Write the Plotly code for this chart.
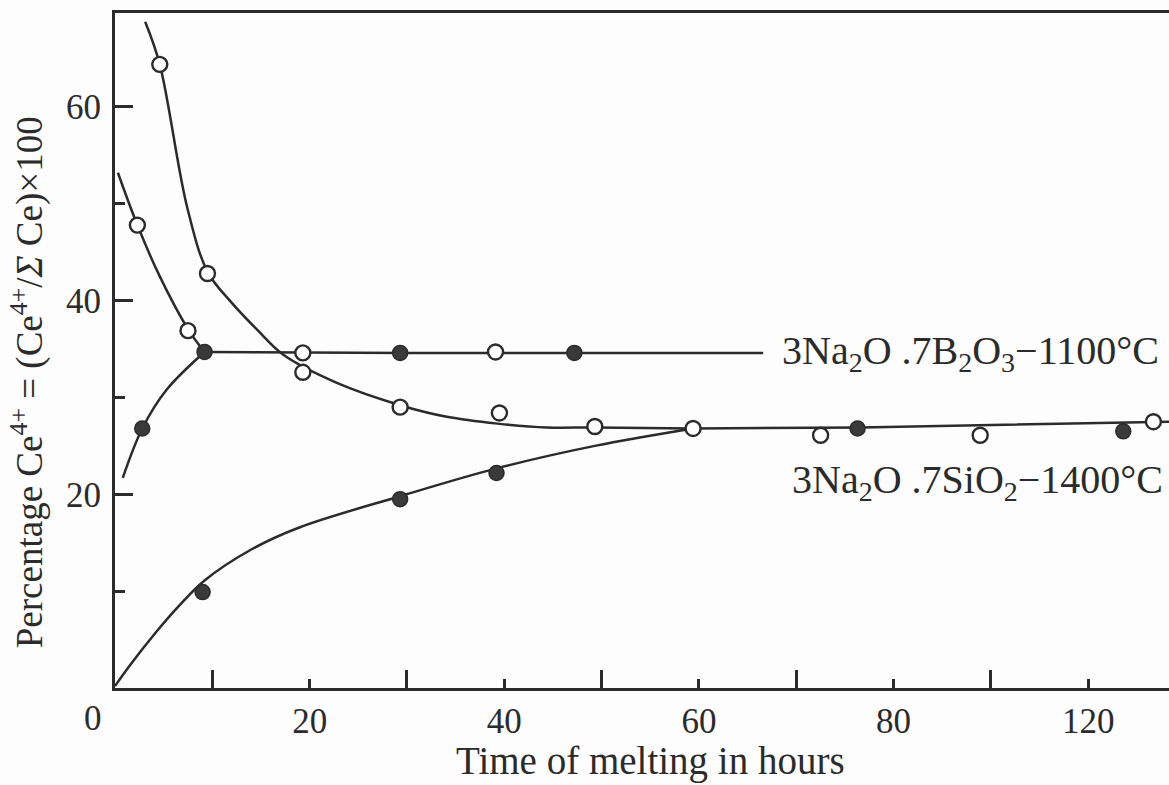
import plotly.graph_objects as go

# ---- measured points (time of melting in hours, % Ce4+) ----
# 3Na2O.7SiO2 at 1400 C
si_open_h = [4.6, 9.5, 19.3, 29.3, 39.5, 49.3, 59.4, 72.5, 88.9, 106.7]
si_open_pct = [64.4, 42.8, 32.6, 29.0, 28.4, 27.0, 26.8, 26.1, 26.1, 27.5]
si_fill_h = [9.0, 29.3, 39.2, 76.3, 103.6]
si_fill_pct = [9.9, 19.5, 22.2, 26.8, 26.5]

# 3Na2O.7B2O3 at 1100 C
b_open_h = [2.3, 7.5, 19.3, 39.1]
b_open_pct = [47.8, 36.9, 34.6, 34.7]
b_fill_h = [2.8, 9.2, 29.3, 47.2]
b_fill_pct = [26.8, 34.7, 34.6, 34.6]

# ---- hand-drawn trend curves through the points ----
si_fall_h = [3.1, 4.6, 7.4, 9.5, 11.8, 14.6, 17.3, 22.8, 29.3, 34.1, 39.3, 44.4, 49.3, 59.4, 76.6, 108.3]
si_fall_pct = [68.8, 64.4, 49.7, 43.0, 40.0, 37.0, 34.4, 31.5, 29.2, 28.0, 27.3, 26.9, 26.9, 26.8, 26.9, 27.5]
si_rise_h = [0.0, 1.5, 4.0, 6.5, 9.2, 14.0, 19.0, 29.3, 39.3, 49.3, 59.4]
si_rise_pct = [0.2, 2.3, 5.5, 8.4, 11.1, 14.3, 16.6, 19.8, 22.7, 25.0, 26.8]
b_fall_h = [0.3, 2.3, 4.6, 7.6, 9.2]
b_fall_pct = [53.2, 47.8, 42.5, 36.9, 34.7]
b_rise_h = [0.8, 2.8, 5.3, 9.2]
b_rise_pct = [21.7, 26.8, 30.8, 34.7]
b_flat_h = [9.2, 30.0, 66.6]
b_flat_pct = [34.7, 34.6, 34.6]

# axis ticks
x_major = [20, 40, 60, 80, 100]
x_major_text = ["20", "40", "60", "80", "120"]
x_minor = [10, 30, 50, 70, 90]
y_major = [0, 20, 40, 60]
y_minor = [10, 30, 50]

INK = "#2b2b2b"
FONT = "Liberation Serif"
TICK_SIZE = 35
TEXT_SIZE = 40

fig = go.Figure()

for hx, py in [(si_fall_h, si_fall_pct), (si_rise_h, si_rise_pct),
               (b_fall_h, b_fall_pct), (b_rise_h, b_rise_pct),
               (b_flat_h, b_flat_pct)]:
    fig.add_trace(go.Scatter(
        x=hx, y=py, mode="lines",
        line=dict(color=INK, width=2.5, shape="spline", smoothing=1.0),
        hoverinfo="skip", showlegend=False))

for hx, py in [(si_open_h, si_open_pct), (b_open_h, b_open_pct)]:
    fig.add_trace(go.Scatter(
        x=hx, y=py, mode="markers",
        marker=dict(symbol="circle", size=15, color="white",
                    line=dict(color=INK, width=2.4)),
        showlegend=False))

for hx, py in [(si_fill_h, si_fill_pct), (b_fill_h, b_fill_pct)]:
    fig.add_trace(go.Scatter(
        x=hx, y=py, mode="markers",
        marker=dict(symbol="circle", size=15, color="#3a3a3a",
                    line=dict(color=INK, width=1.5)),
        showlegend=False))

fig.update_xaxes(
    range=[0, 108.3], showgrid=False, zeroline=False,
    showline=True, linecolor=INK, linewidth=2.8, mirror=True,
    ticks="inside", ticklen=9, tickwidth=2.8, tickcolor=INK,
    tickmode="array", tickvals=x_major, ticktext=x_major_text,
    minor=dict(tickmode="array", tickvals=x_minor, ticks="inside",
               ticklen=18, tickwidth=2.8, tickcolor=INK, showgrid=False),
    tickfont=dict(family=FONT, size=TICK_SIZE, color=INK),
)
fig.update_yaxes(
    range=[0, 69.7], showgrid=False, zeroline=False,
    showline=True, linecolor=INK, linewidth=2.8,
    ticks="inside", ticklen=18, tickwidth=2.8, tickcolor=INK,
    tickmode="array", tickvals=y_major, ticktext=["", "20", "40", "60"],
    minor=dict(tickmode="array", tickvals=y_minor, ticks="inside",
               ticklen=10, tickwidth=2.8, tickcolor=INK, showgrid=False),
    tickfont=dict(family=FONT, size=TICK_SIZE, color=INK),
    ticklabelstandoff=4,
)

annotations = [
    # shared origin label
    dict(x=0, y=0, xref="x", yref="y", text="0", showarrow=False,
         xanchor="center", yanchor="middle",
         xshift=-22, yshift=-30, font=dict(family=FONT, size=TICK_SIZE, color=INK)),
    dict(x=0.5085, y=0, xref="paper", yref="paper",
         xanchor="center", yanchor="middle", yshift=-73,
         text="Time of melting in hours", showarrow=False,
         font=dict(family=FONT, size=TEXT_SIZE - 1, color=INK)),
    dict(x=0, y=0.453, xref="paper", yref="paper",
         xanchor="center", yanchor="middle", xshift=-87,
         text="Percentage Ce<sup>4+</sup> = (Ce<sup>4+</sup>/<i>Σ</i> Ce)×100",
         textangle=-90, showarrow=False,
         font=dict(family=FONT, size=TEXT_SIZE - 3, color=INK)),
    dict(x=68.3, y=34.6, xref="x", yref="y", xanchor="left", yanchor="middle",
         text="3Na<sub>2</sub>O .7B<sub>2</sub>O<sub>3</sub>−1100°C",
         showarrow=False, font=dict(family=FONT, size=TEXT_SIZE, color=INK)),
    dict(x=69.4, y=21.3, xref="x", yref="y", xanchor="left", yanchor="middle",
         text="3Na<sub>2</sub>O .7SiO<sub>2</sub>−1400°C",
         showarrow=False, font=dict(family=FONT, size=TEXT_SIZE, color=INK)),
]

fig.update_layout(
    width=1169, height=785,
    margin=dict(l=115, r=0, t=13, b=97),
    paper_bgcolor="#fdfdfd", plot_bgcolor="#fdfdfd",
    annotations=annotations,
    font=dict(family=FONT, color=INK),
)

fig.write_html("out.html")
